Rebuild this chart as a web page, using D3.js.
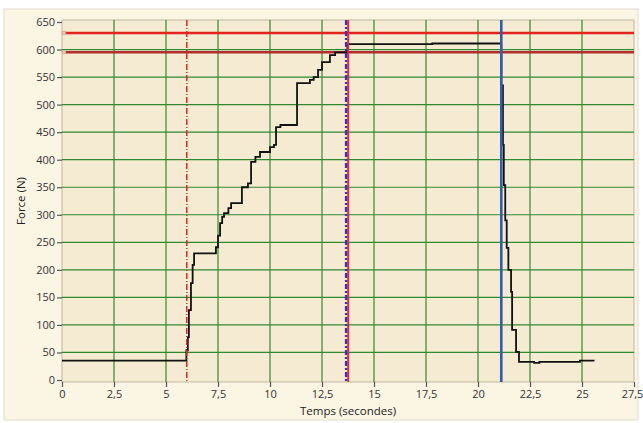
<!DOCTYPE html>
<html>
<head>
<meta charset="utf-8">
<script src="https://cdn.jsdelivr.net/npm/d3@7"></script>
<style>
  body { margin: 0; background: #ffffff; }
  .viz text { font-family: "Open Sans", "DejaVu Sans", sans-serif; }
</style>
</head>
<body>
<div class="viz"></div>
<script>
const width = 643;
const height = 423;

// force curve (time in s, force in N), drawn as steps
const times  = [0, 5.98, 6.05, 6.1, 6.2, 6.28, 6.35, 7.4, 7.5, 7.6, 7.7, 7.79, 8.0, 8.13, 8.65, 8.94, 9.09, 9.3, 9.52, 10.0, 10.19, 10.29, 10.5, 11.3, 11.92, 12.1, 12.31, 12.5, 12.88, 13.13, 13.72, 17.8, 21.12, 21.2, 21.24, 21.31, 21.38, 21.46, 21.59, 21.64, 21.83, 21.97, 22.7, 22.95, 24.9, 25.6];
const forces = [35, 54, 78, 127, 176, 209, 230, 241, 262, 285, 296, 303, 312, 321, 350, 357, 396, 405, 414, 423, 427, 459, 463, 539, 545, 550, 563, 577, 590, 595, 610, 611, 535, 427, 354, 290, 240, 200, 160, 91, 51, 33, 31, 33, 35, 35];

// horizontal limit lines (N)
const limits = [630, 595];
const limitColors = ["#e3231d", "#b52a2a"];

// vertical cursors (s)
const cursorTimes  = [6.0, 13.76, 13.66, 21.12];
const cursorColors = ["#d32a2a", "#e2283a", "#4b2db4", "#2f5eae"];
const cursorDash   = ["6,2,1,2", null, "5,2,2,2", null];
const cursorWidth  = [1.5, 2, 2.5, 2.6];

// ticks
const xTicks = [0, 2.5, 5, 7.5, 10, 12.5, 15, 17.5, 20, 22.5, 25, 27.5];
const yTicks = [0, 50, 100, 150, 200, 250, 300, 350, 400, 450, 500, 550, 600, 650];

const margin = { left: 62, right: 9, top: 22, bottom: 43 };

const svg = d3.select(".viz")
    .append("svg")
    .attr("width", width)
    .attr("height", height);

// panel background
svg.append("rect")
    .attr("x", 4).attr("y", 9)
    .attr("width", 634).attr("height", 411)
    .attr("fill", "#fbf5e3")
    .attr("stroke", "#e2dccb");

const x = d3.scaleLinear().domain([0, 27.5]).range([margin.left, width - margin.right]);
const y = d3.scaleLinear().domain([0, 650]).range([height - margin.bottom, margin.top]);

const locale = d3.formatLocale({ decimal: ",", thousands: " ", grouping: [3], currency: ["", "€"] });
const fmt = locale.format("~g");

// plot area
svg.append("rect")
    .attr("x", x(0))
    .attr("y", y(650) - 2)
    .attr("width", x(27.5) - x(0))
    .attr("height", y(0) - y(650) + 4)
    .attr("fill", "#f5ebd2")
    .attr("stroke", "#bdb8a2");

// grid
svg.append("g")
    .selectAll("line")
    .data(xTicks.filter(d => d > 0 && d < 27.5))
    .enter()
    .append("line")
    .attr("x1", d => x(d)).attr("x2", d => x(d))
    .attr("y1", y(650) - 2).attr("y2", y(0) + 2)
    .attr("stroke", "#2f8a2f")
    .attr("stroke-width", 1.2);

svg.append("g")
    .selectAll("line")
    .data(yTicks.filter(d => d > 0 && d < 650))
    .enter()
    .append("line")
    .attr("x1", x(0)).attr("x2", x(27.5))
    .attr("y1", d => y(d)).attr("y2", d => y(d))
    .attr("stroke", "#2f8a2f")
    .attr("stroke-width", 1.2);

// limit lines
svg.append("g")
    .selectAll("line")
    .data(limits)
    .enter()
    .append("line")
    .attr("x1", x(0)).attr("x2", x(27.5))
    .attr("y1", d => y(d)).attr("y2", d => y(d))
    .attr("stroke", (d, i) => limitColors[i])
    .attr("stroke-width", 2.5);

svg.append("g")
    .selectAll("circle")
    .data(limits)
    .enter()
    .append("circle")
    .attr("cx", x(0) + 2)
    .attr("cy", d => y(d))
    .attr("r", 1.8)
    .attr("fill", "#f5d0c0")
    .attr("stroke", "#e8a090")
    .attr("stroke-width", 0.8);

// force curve
const line = d3.line()
    .x(d => x(d[0]))
    .y(d => y(d[1]))
    .curve(d3.curveStepAfter);

svg.append("path")
    .datum(times.map((t, i) => [t, forces[i]]))
    .attr("d", line)
    .attr("fill", "none")
    .attr("stroke", "#111")
    .attr("stroke-width", 1.8);

// cursors
svg.append("g")
    .selectAll("line")
    .data(cursorTimes)
    .enter()
    .append("line")
    .attr("x1", d => x(d)).attr("x2", d => x(d))
    .attr("y1", y(650) - 2).attr("y2", y(0) + 2)
    .attr("stroke", (d, i) => cursorColors[i])
    .attr("stroke-width", (d, i) => cursorWidth[i])
    .attr("stroke-dasharray", (d, i) => cursorDash[i]);

// axes
const yAxis = svg.append("g")
    .attr("transform", `translate(${x(0)},0)`)
    .call(d3.axisLeft(y).tickValues(yTicks).tickSize(5).tickPadding(2));

const xAxis = svg.append("g")
    .attr("transform", `translate(0,${y(0) + 2})`)
    .call(d3.axisBottom(x).tickValues(xTicks).tickFormat(fmt).tickSize(5).tickPadding(3));

[yAxis, xAxis].forEach(a => {
    a.select(".domain").remove();
    a.selectAll(".tick line").attr("stroke", "#555").attr("stroke-width", 1.2);
    a.selectAll(".tick text")
        .style("font-size", "11px")
        .style("fill", "#333");
});

// last x label would run past the window edge
xAxis.selectAll(".tick text")
    .filter(d => d === 27.5)
    .attr("dx", -2);

// axis titles
svg.append("text")
    .attr("x", (x(0) + x(27.5)) / 2)
    .attr("y", 415)
    .attr("text-anchor", "middle")
    .style("font-size", "11.5px")
    .style("fill", "#222")
    .text("Temps (secondes)");

svg.append("text")
    .attr("transform", `translate(25,${(y(0) + y(650)) / 2}) rotate(-90)`)
    .attr("text-anchor", "middle")
    .style("font-size", "11.5px")
    .style("fill", "#222")
    .text("Force (N)");
</script>
</body>
</html>
